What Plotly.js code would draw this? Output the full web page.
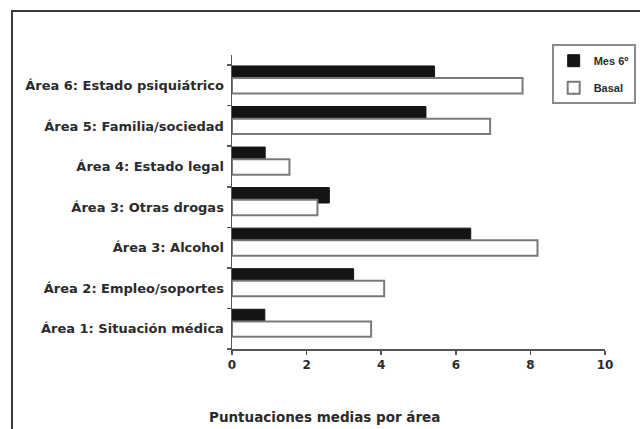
<!DOCTYPE html>
<html>
<head>
<meta charset="utf-8">
<script src="https://cdn.plot.ly/plotly-3.0.1.min.js"></script>
<style>
  html, body { margin: 0; padding: 0; background: #fff; overflow: hidden; }
  #wrap { position: relative; width: 640px; height: 429px; }
  #chart { position: absolute; left: 0; top: 0; width: 640px; height: 429px; }
  #frame { position: absolute; left: 11px; top: 10px; width: 700px; height: 500px;
           border: 2px solid #3a3a3a; pointer-events: none; }
</style>
</head>
<body>
<div id="wrap">
  <div id="chart"></div>
  <div id="frame"></div>
</div>
<script>
const categories = [
  "Área 1: Situación médica",
  "Área 2: Empleo/soportes",
  "Área 3: Alcohol",
  "Área 3: Otras drogas",
  "Área 4: Estado legal",
  "Área 5: Familia/sociedad",
  "Área 6: Estado psiquiátrico"
];
const mes6Values = [0.88, 3.26, 6.4, 2.61, 0.89, 5.2, 5.43];
const basalValues = [3.73, 4.08, 8.19, 2.29, 1.54, 6.92, 7.79];
const xTickValues = [0, 2, 4, 6, 8, 10];
const seriesNames = ["Mes 6º", "Basal"];

const FONT = "DejaVu Sans, Liberation Sans, Arial, sans-serif";
const LEGFONT = "Liberation Sans, Arial, sans-serif";
const TXT = "#2b2b2b";

const traces = [
  {
    type: "bar", orientation: "h",
    name: seriesNames[0], legendgroup: "a",
    y: categories, x: mes6Values,
    offset: 0.1, width: 0.38,
    marker: { color: "#141414", line: { color: "#141414", width: 1 } },
    hoverinfo: "x+y"
  },
  {
    type: "bar", orientation: "h",
    name: seriesNames[1], legendgroup: "b",
    y: categories, x: basalValues,
    offset: -0.2, width: 0.38,
    marker: { color: "#ffffff", line: { color: "#7a7a7a", width: 2 } },
    hoverinfo: "x+y"
  }
];

const layout = {
  width: 640, height: 429,
  margin: { l: 232, r: 35, t: 55, b: 80, autoexpand: false },
  paper_bgcolor: "#ffffff", plot_bgcolor: "#ffffff",
  barmode: "overlay",
  showlegend: true,
  font: { family: FONT, color: TXT, size: 12 },
  legend: {
    xref: "container", yref: "container",
    x: 0.862, xanchor: "left", y: 0.897, yanchor: "top",
    bordercolor: "#8a8a8a", borderwidth: 2, bgcolor: "#ffffff",
    traceorder: "grouped", tracegroupgap: 8,
    font: { family: LEGFONT, size: 11, color: TXT, weight: "bold" }
  },
  xaxis: {
    range: [0, 10], tickvals: xTickValues, ticktext: xTickValues.map(String),
    showgrid: false, zeroline: false,
    showline: true, linecolor: "#555", linewidth: 1.5,
    ticks: "outside", ticklen: 4, tickcolor: "#555", tickwidth: 1.5,
    tickfont: { family: FONT, size: 12, color: TXT, weight: "bold" },
    fixedrange: true
  },
  yaxis: {
    type: "category", categoryorder: "array", categoryarray: categories,
    range: [-0.5, 6.75],
    showgrid: false, zeroline: false,
    showline: true, linecolor: "#555", linewidth: 1.5,
    ticks: "outside", ticklen: 4, tickcolor: "#555", tickwidth: 1.5,
    tickson: "boundaries", ticklabelstandoff: 4,
    tickfont: { family: FONT, size: 13, color: TXT, weight: "bold" },
    fixedrange: true
  },
  annotations: [
    {
      text: "Puntuaciones medias por área",
      xref: "paper", yref: "paper",
      x: 0.247, y: -0.232, xanchor: "center", yanchor: "middle",
      showarrow: false,
      font: { family: FONT, size: 13.5, color: TXT, weight: "bold" }
    }
  ]
};

Plotly.newPlot("chart", traces, layout, { staticPlot: true, displayModeBar: false });
</script>
</body>
</html>
